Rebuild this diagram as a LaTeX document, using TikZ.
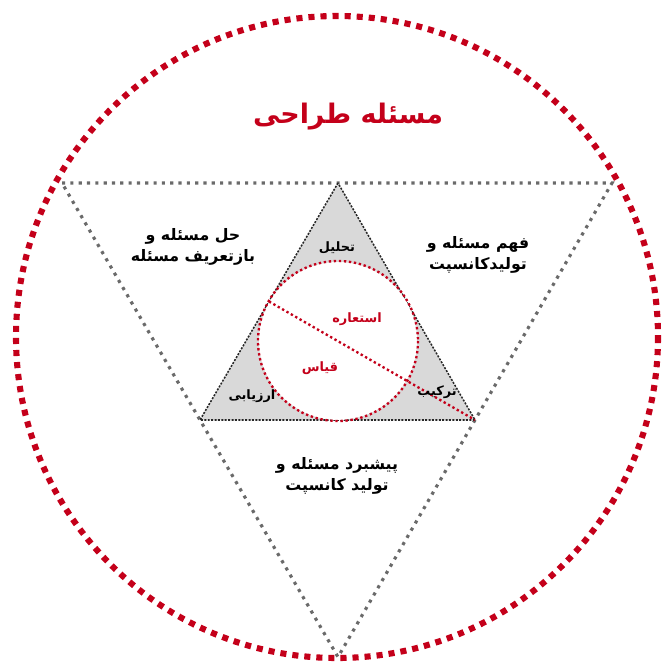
\documentclass[tikz,border=0pt]{standalone}
\usepackage{fontspec}
\usetikzlibrary{calc}
\newfontfamily\fa[Script=Arabic]{DejaVu Sans}
\TeXXeTstate=1
\definecolor{dred}{HTML}{C4001A}
\definecolor{tgray}{HTML}{6A6A6A}
\definecolor{tfill}{HTML}{D9D9D9}
\tikzset{
  bigdots/.style={draw=dred, line width=5.2pt, dash pattern=on 5.2pt off 5.1pt},
  graydots/.style={draw=tgray, line width=2.7pt, dash pattern=on 2.7pt off 4.4pt},
  innertri/.style={fill=tfill, draw=black!85, line width=1.3pt, dash pattern=on 1.7pt off 1.2pt},
  reddots/.style={draw=dred, line width=2pt, dash pattern=on 2pt off 2.3pt},
  lbl/.style={font=\fa\bfseries\fontsize{13.5}{18}\selectfont, align=center, text=black},
  slbl/.style={font=\fa\bfseries\fontsize{11}{13}\selectfont, text=black},
  rlbl/.style={font=\fa\bfseries\fontsize{11}{13}\selectfont, text=dred},
}
\begin{document}
\begin{tikzpicture}[x=0.03cm, y=-0.03cm]
\useasboundingbox (0,0) rectangle (663,663);
% outer circle
\coordinate (O) at (337,337);
\draw[bigdots] (O) circle[radius=321];
% outer inverted triangle
\coordinate (TL) at (62,183);
\coordinate (TR) at (612,183);
\coordinate (TB) at (338,657);
\draw[graydots] (TL) -- (TR) -- (TB) -- cycle;
% inner triangle
\coordinate (IA) at (338,183);
\coordinate (IB) at (200,420);
\coordinate (IC) at (475,420);
\draw[innertri] (IA) -- (IB) -- (IC) -- cycle;
% incircle
\coordinate (IO) at (338,341);
\fill[white] (IO) circle[radius=79];
\draw[reddots] (IO) circle[radius=80];
\coordinate (IM) at ($(IA)!0.5!(IB)$);
\draw[reddots] (IM) -- (IC);
% title
\node[font=\fa\bfseries\fontsize{23}{26}\selectfont, text=dred] (title) at (348,117) {\beginR مسئله طراحی\endR};
% outer labels
\node[lbl] (left) at (193,247) {\beginR حل مسئله و\endR\\\beginR بازتعریف مسئله\endR};
\node[lbl] (right) at (478,255) {\beginR فهم مسئله و\endR\\\beginR تولیدکانسپت\endR};
\node[lbl] (bottom) at (337,476) {\beginR پیشبرد مسئله و\endR\\\beginR تولید کانسپت\endR};
% inner labels
\node[slbl] (tahlil) at (337,248) {\beginR تحلیل\endR};
\node[slbl] (arzyabi) at (252,396) {\beginR ارزیابی\endR};
\node[slbl] (tarkib) at (437,392) {\beginR ترکیب\endR};
\node[rlbl] (esteare) at (357,319) {\beginR استعاره\endR};
\node[rlbl] (qias) at (320,368) {\beginR قیاس\endR};
\end{tikzpicture}
\end{document}
